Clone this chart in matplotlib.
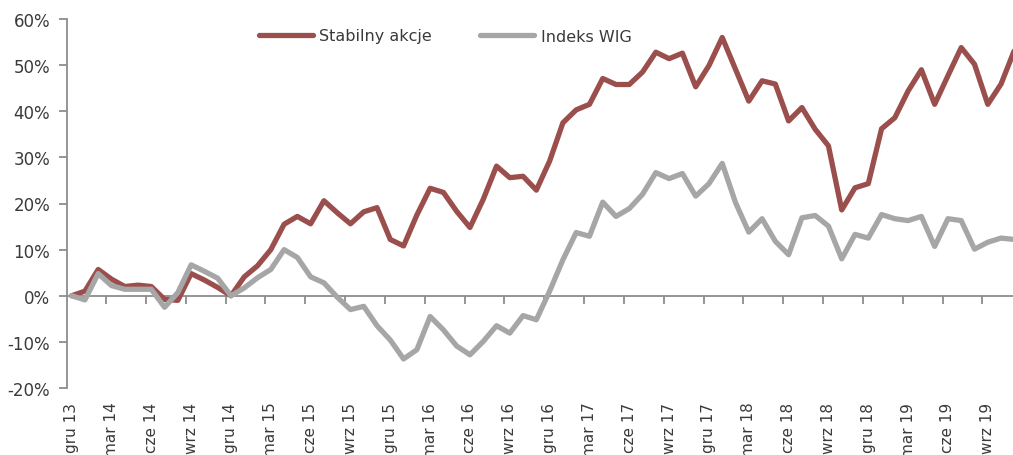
import numpy as np
import matplotlib
matplotlib.use("Agg")
import matplotlib.pyplot as plt
import matplotlib.transforms as mtransforms

plt.rcParams['font.family'] = ['Liberation Sans Narrow', 'DejaVu Sans']

# monthly values, gru 13 .. lis 19 (in %)
stabilny = [0, 1.0, 5.7, 3.6, 2.0, 2.3, 2.0, -0.8, -1.0, 4.8, 3.4, 1.8,
            0, 4.1, 6.5, 10.0, 15.5, 17.2, 15.6, 20.6, 18.0, 15.6, 18.2, 19.1,
            12.2, 10.8, 17.5, 23.3, 22.4, 18.3, 14.8, 20.9, 28.1, 25.6, 25.9, 22.9,
            29.2, 37.5, 40.3, 41.5, 47.1, 45.8, 45.8, 48.5, 52.8, 51.4, 52.6, 45.3,
            49.9, 56.0, 49.1, 42.2, 46.6, 45.9, 37.9, 40.8, 36.1, 32.5, 18.6, 23.4,
            24.3, 36.2, 38.6, 44.4, 49.0, 41.5, 47.7, 53.8, 50.2, 41.5, 45.9, 53.2]
wig = [0, -0.9, 4.8, 2.2, 1.4, 1.4, 1.4, -2.5, 0.7, 6.7, 5.3, 3.8,
       0, 1.7, 3.9, 5.7, 10.0, 8.3, 4.1, 2.8, -0.3, -3.0, -2.3, -6.5,
       -9.6, -13.7, -11.7, -4.5, -7.4, -10.9, -12.8, -9.9, -6.5, -8.1, -4.3, -5.2,
       1.0, 7.8, 13.7, 12.9, 20.3, 17.2, 18.9, 22.0, 26.7, 25.4, 26.5, 21.6,
       24.3, 28.7, 20.2, 13.8, 16.7, 11.8, 8.9, 16.9, 17.4, 15.1, 8.0, 13.3,
       12.5, 17.6, 16.7, 16.3, 17.2, 10.7, 16.7, 16.3, 10.1, 11.6, 12.5, 12.2]
labels = ['gru 13', 'mar 14', 'cze 14', 'wrz 14', 'gru 14', 'mar 15', 'cze 15', 'wrz 15',
          'gru 15', 'mar 16', 'cze 16', 'wrz 16', 'gru 16', 'mar 17', 'cze 17', 'wrz 17',
          'gru 17', 'mar 18', 'cze 18', 'wrz 18', 'gru 18', 'mar 19', 'cze 19', 'wrz 19']

x = np.arange(len(stabilny))
red = '#9A4F4D'
grey = '#A6A6A6'
axcol = '#8C8C8C'
txt = '#3A3A3A'

fig = plt.figure(figsize=(10.13, 4.56), dpi=100)
ax = fig.add_axes([67 / 1013, 67 / 456, 1 - 67 / 1013, 369 / 456])

ax.plot(x, stabilny, color=red, lw=3.8, label='Stabilny akcje', solid_capstyle='round', zorder=3)
ax.plot(x, wig, color=grey, lw=3.8, label='Indeks WIG', solid_capstyle='round', zorder=4)

ax.set_xlim(-0.35, 70.9)
ax.set_ylim(-20, 60)
ax.set_yticks(np.arange(-20, 61, 10))
ax.set_yticklabels([f'{v}%' for v in range(-20, 61, 10)])

for s in ['top', 'right']:
    ax.spines[s].set_visible(False)
ax.spines['left'].set_color(axcol)
ax.spines['left'].set_linewidth(1.3)
ax.spines['bottom'].set_position(('data', 0))
ax.spines['bottom'].set_color(axcol)
ax.spines['bottom'].set_linewidth(1.3)

ax.tick_params(axis='y', direction='out', length=6, width=1.3, color=axcol,
               labelsize=12, labelcolor=txt, pad=6)
ax.set_xticks(np.arange(2.6, 71, 3))
ax.tick_params(axis='x', direction='out', length=6, width=1.3, color=axcol,
               labelbottom=False)

trans = mtransforms.blended_transform_factory(ax.transData, ax.transAxes)
for k, lab in enumerate(labels):
    ax.text(3 * k, -0.037, lab, transform=trans, rotation=90, ha='center', va='top',
            fontsize=11, color=txt, clip_on=False)

ax.legend(loc='center', bbox_to_anchor=(445 / 1013, 1 - 37 / 456), bbox_transform=fig.transFigure,
          ncol=2, frameon=False, fontsize=11.5, handlelength=3.4, handletextpad=0.4,
          columnspacing=3.0, labelcolor=txt)

fig.savefig('out.png', dpi=100)
